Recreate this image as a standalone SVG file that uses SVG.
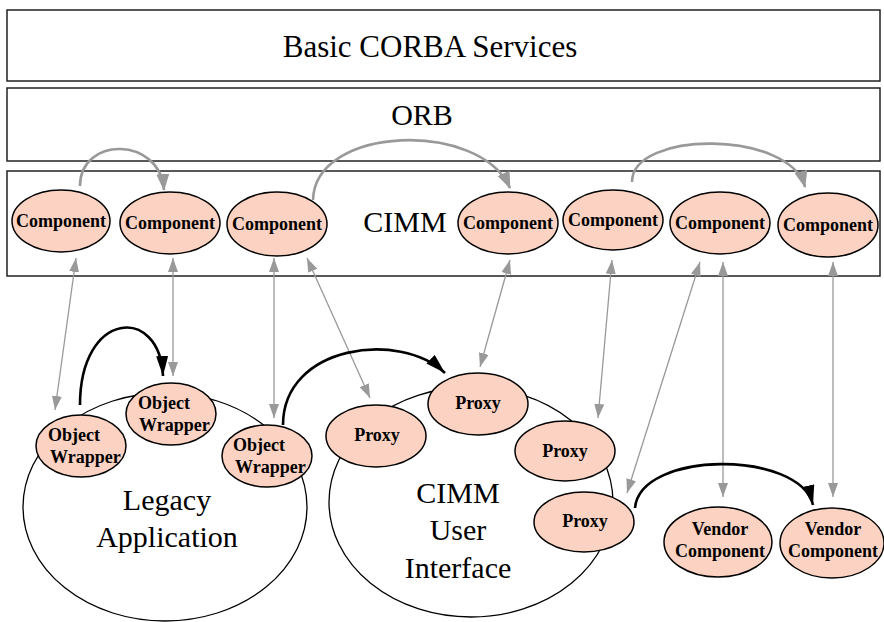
<svg xmlns="http://www.w3.org/2000/svg" width="884" height="622" viewBox="0 0 884 622">
<style>
.box{fill:#fff;stroke:#222;stroke-width:1.5}
.big{fill:#fff;stroke:#000;stroke-width:1.3}
.node{fill:#fcd3c2;stroke:#000;stroke-width:1.5}
.lbl{font-family:"Liberation Serif","Times New Roman",serif;font-size:30px;fill:#000;text-anchor:middle}
.nl{font-family:"Liberation Serif","Times New Roman",serif;font-size:18px;font-weight:bold;fill:#000;text-anchor:middle}
.nls{font-family:"Liberation Serif","Times New Roman",serif;font-size:18px;font-weight:bold;fill:#000}
.gl{fill:none;stroke:#999;stroke-width:1.3;marker-start:url(#ga);marker-end:url(#ga)}
.ga{fill:none;stroke:#999;stroke-width:2.6;marker-end:url(#gb)}
.ba{fill:none;stroke:#000;stroke-width:2.6;marker-end:url(#bk)}
</style>
<defs>
<marker id="ga" markerUnits="userSpaceOnUse" markerWidth="16" markerHeight="12" refX="14" refY="5" orient="auto-start-reverse"><path d="M0,0 L14,5 L0,10 z" fill="#999"/></marker>
<marker id="gb" markerUnits="userSpaceOnUse" markerWidth="20" markerHeight="14" refX="16" refY="6.5" orient="auto"><path d="M0,0 L17,6.5 L0,13 z" fill="#999"/></marker>
<marker id="bk" markerUnits="userSpaceOnUse" markerWidth="22" markerHeight="14" refX="20" refY="6" orient="auto"><path d="M0,0 L20,6 L0,12 z" fill="#000"/></marker>
</defs>
<g id="basic-corba"><rect class="box" x="7" y="10" width="873" height="71"/><text class="lbl" x="430" y="57" style="font-size:31px">Basic CORBA Services</text></g>
<g id="orb"><rect class="box" x="7" y="88" width="873" height="73"/><text class="lbl" x="422" y="125">ORB</text></g>
<g id="cimm"><rect class="box" x="7" y="171" width="873" height="105"/><text class="lbl" x="405" y="232">CIMM</text></g>
<g id="legacy-app"><ellipse class="big" cx="165" cy="507" rx="142" ry="114"/><text class="lbl" x="167" y="510">Legacy</text><text class="lbl" x="167" y="547">Application</text></g>
<g id="cimm-ui"><ellipse class="big" cx="471" cy="502" rx="142" ry="115"/><text class="lbl" x="458" y="503">CIMM</text><text class="lbl" x="458" y="540">User</text><text class="lbl" x="458" y="578">Interface</text></g>
<g id="connectors">
<path class="ga" d="M80,186 C80,136 160,136 164,190"/>
<path class="ga" d="M313,200 C315,125 480,120 510,188"/>
<path class="ga" d="M632,182 C632,130 790,130 805,187"/>
<line class="gl" x1="76" y1="258" x2="55" y2="410"/>
<line class="gl" x1="173" y1="258" x2="173" y2="376"/>
<line class="gl" x1="274" y1="258" x2="274" y2="418"/>
<line class="gl" x1="307" y1="258" x2="370" y2="398"/>
<line class="gl" x1="510" y1="260" x2="480" y2="367"/>
<line class="gl" x1="612" y1="260" x2="598" y2="418"/>
<line class="gl" x1="700" y1="262" x2="627" y2="493"/>
<line class="gl" x1="723" y1="262" x2="723" y2="497"/>
<line class="gl" x1="833" y1="262" x2="833" y2="497"/>
<path class="ba" d="M80,405 C80,310 160,305 163,376"/>
<path class="ba" d="M283,425 C283,345 400,330 445,373"/>
<path class="ba" d="M635,508 C640,450 800,450 813,505"/>
</g>
<g id="comp1"><ellipse class="node" cx="61" cy="221" rx="49" ry="31"/><text class="nl" x="61" y="227">Component</text></g>
<g id="comp2"><ellipse class="node" cx="170" cy="223" rx="50" ry="31"/><text class="nl" x="170" y="229">Component</text></g>
<g id="comp3"><ellipse class="node" cx="277" cy="224" rx="50" ry="32"/><text class="nl" x="277" y="230">Component</text></g>
<g id="comp4"><ellipse class="node" cx="508" cy="223" rx="50" ry="31"/><text class="nl" x="508" y="229">Component</text></g>
<g id="comp5"><ellipse class="node" cx="613" cy="220" rx="50" ry="30"/><text class="nl" x="613" y="226">Component</text></g>
<g id="comp6"><ellipse class="node" cx="720" cy="223" rx="50" ry="31"/><text class="nl" x="720" y="229">Component</text></g>
<g id="comp7"><ellipse class="node" cx="828" cy="225" rx="50" ry="32"/><text class="nl" x="828" y="231">Component</text></g>
<g id="wrapper1"><ellipse class="node" cx="81" cy="446" rx="45" ry="31"/><text class="nls" x="48" y="441">Object</text><text class="nls" x="50" y="463">Wrapper</text></g>
<g id="wrapper2"><ellipse class="node" cx="171" cy="414" rx="45" ry="31"/><text class="nls" x="138" y="409">Object</text><text class="nls" x="139" y="431">Wrapper</text></g>
<g id="wrapper3"><ellipse class="node" cx="267" cy="456" rx="45" ry="31"/><text class="nls" x="233" y="451">Object</text><text class="nls" x="235" y="473">Wrapper</text></g>
<g id="proxy1"><ellipse class="node" cx="376" cy="436" rx="50" ry="31"/><text class="nl" x="377" y="441">Proxy</text></g>
<g id="proxy2"><ellipse class="node" cx="478" cy="404" rx="50" ry="31"/><text class="nl" x="478" y="409">Proxy</text></g>
<g id="proxy3"><ellipse class="node" cx="565" cy="451" rx="50" ry="30"/><text class="nl" x="565" y="457">Proxy</text></g>
<g id="proxy4"><ellipse class="node" cx="584" cy="522" rx="50" ry="30"/><text class="nl" x="585" y="527">Proxy</text></g>
<g id="vendor1"><ellipse class="node" cx="718" cy="542" rx="54" ry="35"/><text class="nl" x="720" y="535">Vendor</text><text class="nl" x="720" y="557">Component</text></g>
<g id="vendor2"><ellipse class="node" cx="832" cy="543" rx="52" ry="35"/><text class="nl" x="833" y="535">Vendor</text><text class="nl" x="833" y="557">Component</text></g>
</svg>
